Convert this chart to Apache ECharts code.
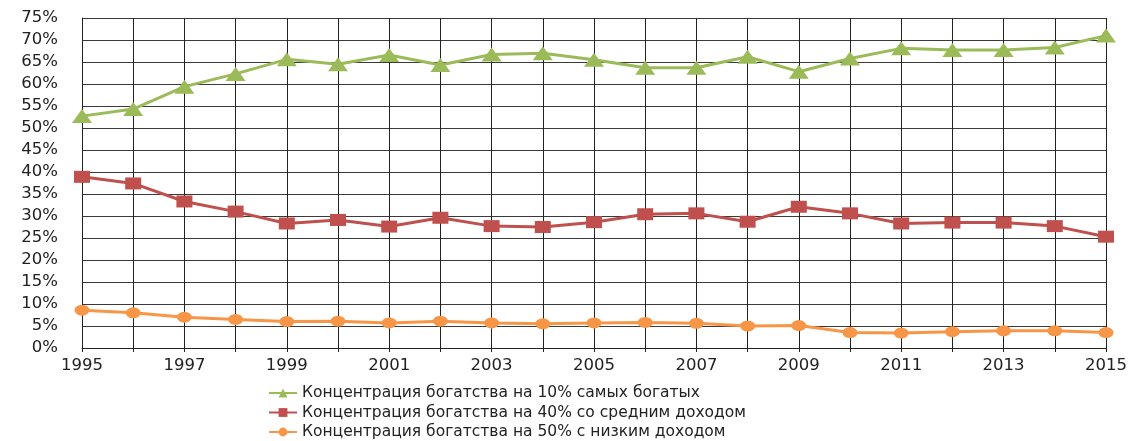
<!DOCTYPE html>
<html>
<head>
<meta charset="utf-8">
<script src="https://cdn.jsdelivr.net/npm/echarts@6/dist/echarts.min.js"></script>
<style>
  html, body { margin: 0; padding: 0; background: #fff; }
  #chart { width: 1134px; height: 441px; }
</style>
</head>
<body>
<div id="chart"></div>
<script>
// годы
const years = ["1995", "1996", "1997", "1998", "1999", "2000", "2001", "2002", "2003", "2004",
  "2005", "2006", "2007", "2008", "2009", "2010", "2011", "2012", "2013", "2014", "2015"];

const top10 = [52.7, 54.3, 59.4, 62.3, 65.6, 64.5, 66.6, 64.3, 66.7, 67.0,
  65.5, 63.7, 63.7, 66.2, 62.8, 65.8, 68.1, 67.7, 67.7, 68.3, 71.0];
const mid40 = [38.9, 37.4, 33.3, 31.0, 28.3, 29.1, 27.6, 29.6, 27.7, 27.5,
  28.6, 30.4, 30.6, 28.7, 32.1, 30.6, 28.3, 28.5, 28.5, 27.7, 25.3];
const low50 = [8.6, 8.0, 7.0, 6.5, 6.0, 6.1, 5.7, 6.1, 5.7, 5.5,
  5.7, 5.8, 5.6, 5.0, 5.1, 3.5, 3.4, 3.7, 3.9, 3.9, 3.5];

const names = [
  "Концентрация богатства на 10% самых богатых",
  "Концентрация богатства на 40% со средним доходом",
  "Концентрация богатства на 50% с низким доходом"
];

let myChart = echarts.init(document.getElementById("chart"));
myChart.setOption({
  animation: false,
  color: ["#9bbb59", "#c0504d", "#f79646"],
  textStyle: { fontFamily: "DejaVu Sans, sans-serif" },
  grid: { left: 82, right: 28, top: 18, bottom: 93 },
  legend: {
    orient: "vertical",
    left: 263,
    top: 380,
    height: 70,
    itemWidth: 28,
    itemHeight: 11,
    itemGap: 3.5,
    textStyle: { fontSize: 15.5, lineHeight: 16, color: "#222" },
    data: names
  },
  xAxis: {
    type: "category",
    data: years,
    boundaryGap: false,
    axisLine: { lineStyle: { color: "#222", width: 1 } },
    axisTick: { show: true, length: 4, interval: 0, lineStyle: { color: "#222" } },
    axisLabel: { interval: 1, fontSize: 16.5, color: "#222", margin: 9 },
    splitLine: { show: true, interval: 0, lineStyle: { color: "#222", width: 1 } }
  },
  yAxis: {
    type: "value",
    min: 0,
    max: 75,
    interval: 5,
    axisLine: { show: true, lineStyle: { color: "#222" } },
    axisTick: { show: false },
    axisLabel: { formatter: "{value}%", fontSize: 16.5, color: "#222", margin: 24 },
    splitLine: { lineStyle: { color: "#3a3a3a", width: 1 } }
  },
  series: [
    {
      name: names[0],
      type: "line",
      data: top10,
      symbol: "triangle",
      symbolSize: [20, 14],
      lineStyle: { width: 3 }
    },
    {
      name: names[1],
      type: "line",
      data: mid40,
      symbol: "rect",
      symbolSize: [16, 12],
      lineStyle: { width: 3 }
    },
    {
      name: names[2],
      type: "line",
      data: low50,
      symbol: "circle",
      symbolSize: [15, 11],
      lineStyle: { width: 3 }
    }
  ]
});
</script>
</body>
</html>
